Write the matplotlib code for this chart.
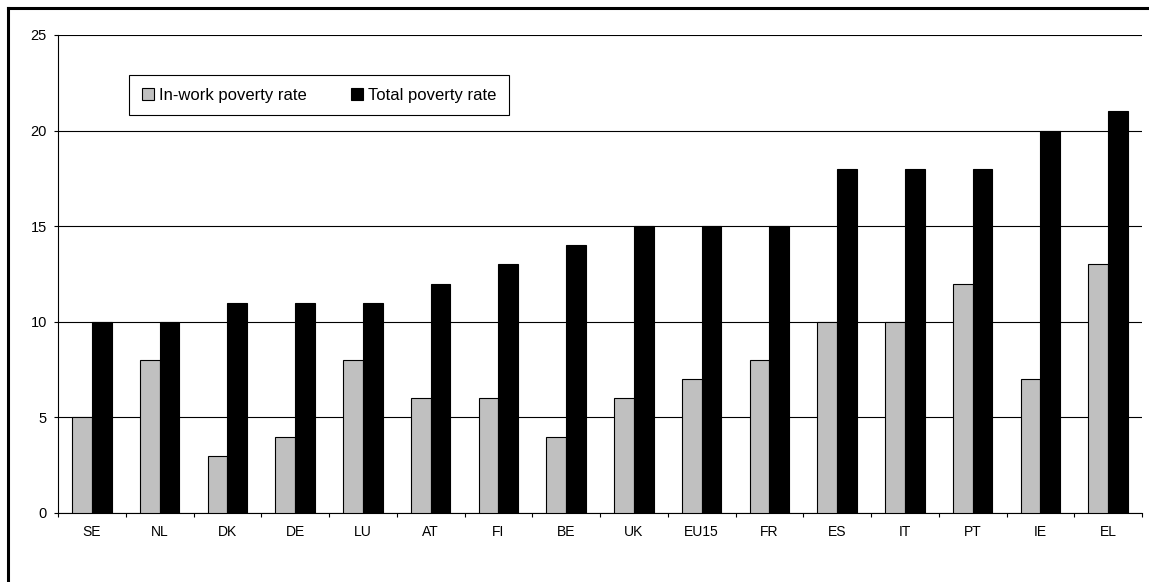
import matplotlib.pyplot as plt
import numpy as np
from matplotlib.lines import Line2D

plt.rcParams["font.family"] = ["Liberation Sans", "DejaVu Sans"]

countries = ["SE", "NL", "DK", "DE", "LU", "AT", "FI", "BE",
             "UK", "EU15", "FR", "ES", "IT", "PT", "IE", "EL"]
in_work_rate = [5, 8, 3, 4, 8, 6, 6, 4, 6, 7, 8, 10, 10, 12, 7, 13]
total_rate = [10, 10, 11, 11, 11, 12, 13, 14, 15, 15, 15, 18, 18, 18, 20, 21]
y_ticks = [0, 5, 10, 15, 20, 25]

fig = plt.figure(figsize=(11.49, 5.82), dpi=100)
ax = fig.add_axes([58 / 1149, 1 - 513 / 582, (1142 - 58) / 1149, (513 - 35) / 582])

x = np.arange(len(countries))
width = 0.29
ax.bar(x - width / 2, in_work_rate, width, color="#c0c0c0", edgecolor="black",
       linewidth=0.8, label="In-work poverty rate", zorder=3)
ax.bar(x + width / 2, total_rate, width, color="black", edgecolor="black",
       linewidth=0.8, label="Total poverty rate", zorder=3)

ax.set_xlim(-0.5, len(countries) - 0.5)
ax.set_ylim(0, 25)
ax.set_yticks(y_ticks)
ax.yaxis.grid(True, color="black", linewidth=0.8, zorder=0)

# category labels sit between boundary ticks
ax.set_xticks(np.arange(len(countries) + 1) - 0.5)
ax.set_xticklabels([])
ax.set_xticks(x, minor=True)
ax.set_xticklabels(countries, minor=True)
ax.tick_params(axis="x", which="major", direction="out", length=3, width=0.8)
ax.tick_params(axis="x", which="minor", length=0, pad=9, labelsize=10)
ax.tick_params(axis="y", direction="out", length=3, width=0.8, labelsize=10.5, pad=5)

for side in ["top", "right"]:
    ax.spines[side].set_visible(False)
for side in ["left", "bottom"]:
    ax.spines[side].set_linewidth(0.8)

leg = ax.legend(loc="upper left", bbox_to_anchor=(0.0655, 0.916), ncol=2,
                frameon=True, fancybox=False, edgecolor="black", framealpha=1,
                fontsize=12, handlelength=0.75, handleheight=0.75,
                handletextpad=0.3, columnspacing=2.65, borderpad=0.75,
                borderaxespad=0)
leg.get_frame().set_linewidth(0.8)

# outer chart frame
fig.add_artist(Line2D([8 / 1149, 8 / 1149], [0, 1 - 8 / 582], color="black",
                      linewidth=2.2, transform=fig.transFigure))
fig.add_artist(Line2D([8 / 1149, 1], [1 - 8 / 582, 1 - 8 / 582], color="black",
                      linewidth=2.2, transform=fig.transFigure))

fig.savefig("out.png", dpi=100)
